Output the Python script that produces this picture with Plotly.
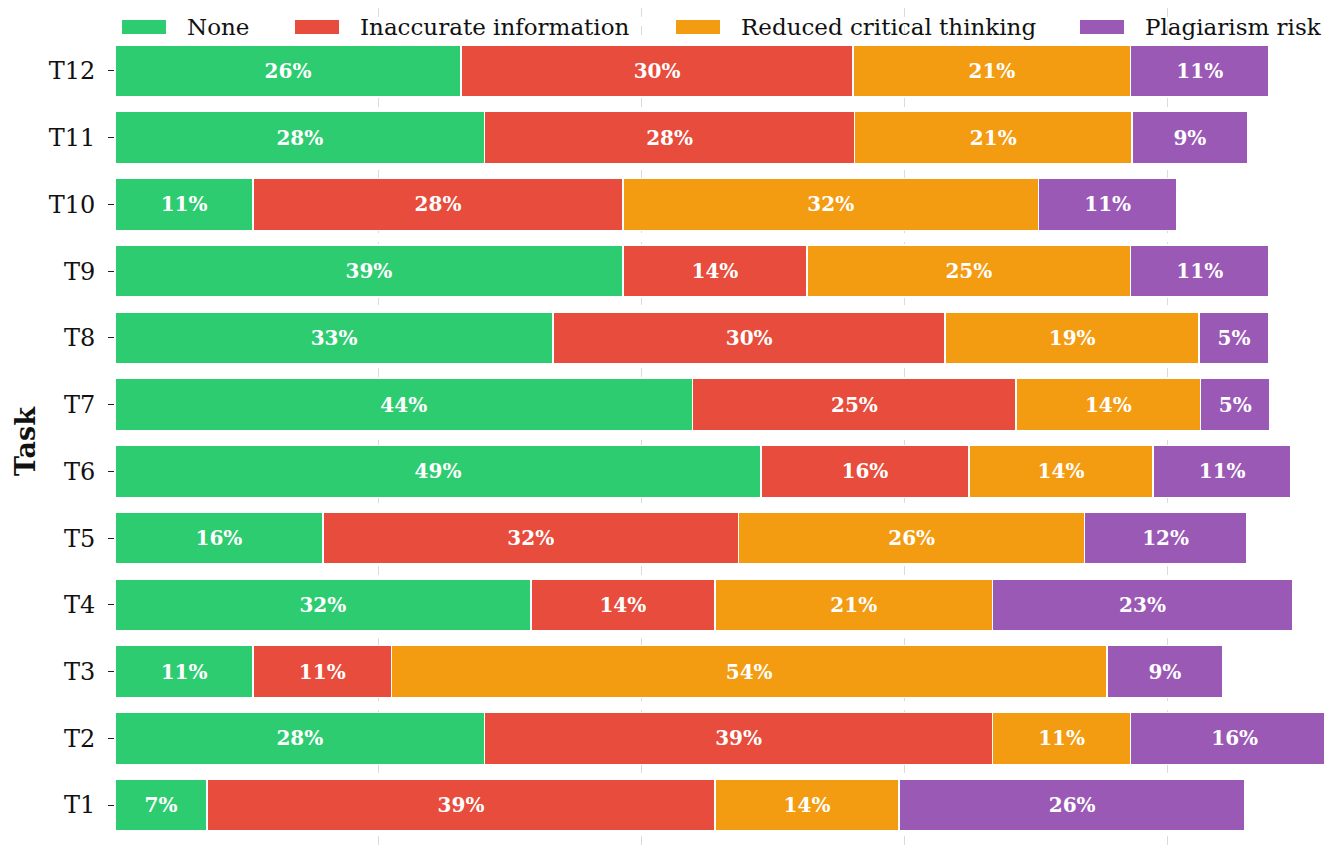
import plotly.graph_objects as go

tasks = ["T1", "T2", "T3", "T4", "T5", "T6", "T7", "T8", "T9", "T10", "T11", "T12"]
none_pct = [7.0, 28.1, 10.5, 31.6, 15.8, 49.1, 43.9, 33.3, 38.6, 10.5, 28.1, 26.3]
inaccurate_pct = [38.6, 38.6, 10.5, 14.0, 31.6, 15.8, 24.6, 29.8, 14.0, 28.1, 28.1, 29.8]
reduced_pct = [14.0, 10.5, 54.4, 21.1, 26.3, 14.0, 14.0, 19.3, 24.6, 31.6, 21.1, 21.1]
plagiarism_pct = [26.3, 15.8, 8.8, 22.8, 12.3, 10.5, 5.3, 5.3, 10.5, 10.5, 8.8, 10.5]

series_names = ["None", "Inaccurate information", "Reduced critical thinking", "Plagiarism risk"]
series_values = [none_pct, inaccurate_pct, reduced_pct, plagiarism_pct]
colors = ["#2ecc71", "#e74c3c", "#f39c12", "#9b59b6"]

FONT = "DejaVu Serif"
OFF = 8                      # page body margin in the browser
W, H = 1332 - OFF, 850 - OFF
L = 115 - OFF                # plot area starts at page x=115

fig = go.Figure()
for name, vals, col in zip(series_names, series_values, colors):
    fig.add_trace(go.Bar(
        y=tasks, x=vals, name=name, orientation="h",
        marker=dict(color=col, line=dict(color="white", width=1.5)),
        width=0.78,
        text=[f"{int(v + 0.5)}%" for v in vals],
        textposition="inside", insidetextanchor="middle",
        textfont=dict(family=FONT, size=20, color="white", weight="bold"),
        constraintext="none",
        showlegend=False,
        hoverinfo="x+y+name",
    ))

# manual legend (matplotlib-style wide swatches); positions in page pixels
def px(xp):
    return (xp - OFF - L) / (W - L)

def py(yp):
    return 1 - (yp - OFF) / H

legend_sw_x = [122, 295, 676, 1080]
for name, col, sx in zip(series_names, colors, legend_sw_x):
    fig.add_shape(type="rect", xref="paper", yref="paper",
                  x0=px(sx), x1=px(sx + 44), y0=py(34), y1=py(20),
                  fillcolor=col, line=dict(width=0), layer="above")
    fig.add_annotation(xref="paper", yref="paper",
                       x=px(sx + 63), y=py(27),
                       text=name, showarrow=False, xanchor="left", yanchor="middle",
                       font=dict(family=FONT, size=23, color="#111111"))

# y-axis title
fig.add_annotation(xref="paper", yref="paper", x=px(25), y=py(441),
                   text="<b>Task</b>", textangle=-90, showarrow=False,
                   xanchor="center", yanchor="middle",
                   font=dict(family=FONT, size=27, color="#111111"))

fig.update_layout(
    barmode="stack",
    width=W, height=H,
    margin=dict(l=L, r=0, t=0, b=0),
    plot_bgcolor="white", paper_bgcolor="white",
    font=dict(family=FONT, color="#111111"),
)
fig.update_xaxes(range=[0, 92.5], dtick=20, showgrid=True, gridcolor="rgba(190,190,190,0.55)",
                 griddash="dash", gridwidth=1, zeroline=False, showticklabels=False,
                 showline=False, layer="above traces", fixedrange=True)
fig.update_yaxes(range=[-0.674, 11.944], showgrid=False, zeroline=False, showline=False,
                 ticks="outside", ticklen=6, tickcolor="#222222", tickwidth=1.2,
                 ticklabelstandoff=8,
                 tickfont=dict(family=FONT, size=24, color="#111111"),
                 categoryorder="array", categoryarray=tasks)

fig.write_html("out.html")
